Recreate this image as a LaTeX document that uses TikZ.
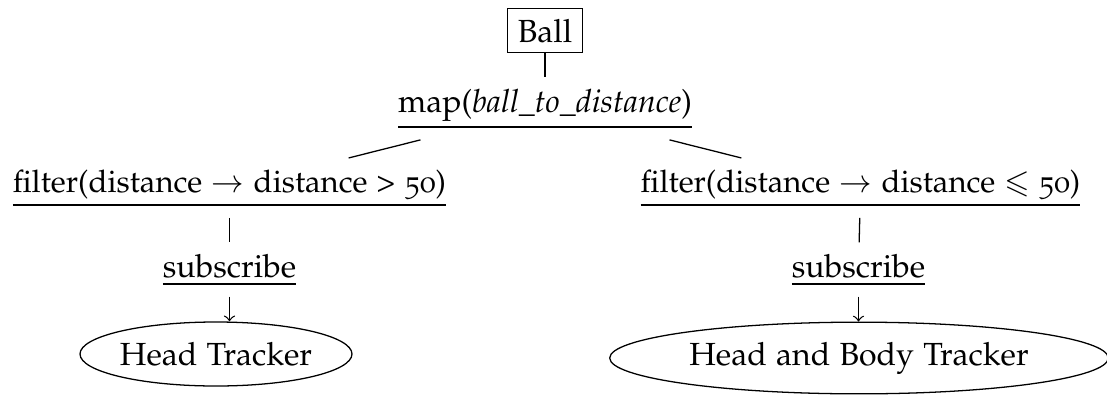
\documentclass[tikz,border=0pt]{standalone}
\usepackage[T1]{fontenc}
\usepackage[sc,osf]{mathpazo}
\usepackage{amssymb}
\usepackage{graphicx}
\usetikzlibrary{shapes.geometric}
\newcommand\myuline[1]{\setbox0\hbox{#1}\vtop{\box0\kern1.7pt\hrule height 0.6pt}}
\begin{document}
\begin{tikzpicture}[x=0.3125pt,y=-0.3125pt,
  lbl/.style={inner sep=3.4pt, anchor=base},
  boxed/.style={draw, inner sep=3.33pt},
  oval/.style={draw, ellipse, inner sep=0pt},
  conn/.style={line width=0.4pt}]
\useasboundingbox (0,0) rectangle (1107,396);
\clip (0,0) rectangle (1107,396);
\node[boxed] (ball) at (545,30.5) {Ball};
\node[lbl] (map) at (545,112) {\myuline{map(\textit{ball\_to\_distance})}};
\node[lbl] (filL) at (229.5,192) {\myuline{\scalebox{0.973}{filter(distance $\rightarrow$ distance > 50)}}};
\node[lbl] (filR) at (860.5,192) {\myuline{\scalebox{0.973}{filter(distance $\rightarrow$ distance $\leqslant$ 50)}}};
\node[lbl] (subL) at (229.5,277) {\myuline{subscribe}};
\node[lbl] (subR) at (858.5,277) {\myuline{subscribe}};
\node[oval, minimum width=85pt, minimum height=20pt] (ellL) at (216,354) {Head Tracker};
\node[oval, minimum width=155.8pt, minimum height=22.4pt] (ellR) at (859,358) {Head and Body Tracker};
\draw[conn] (ball) -- (map);
\draw[conn] (map) -- (filL);
\draw[conn] (map) -- (filR);
\draw[conn] (filL) -- (subL);
\draw[conn] (filR) -- (subR);
\draw[conn,->] (subL.south) -- (subL.south |- ellL.north);
\draw[conn,->] (subR.south) -- (subR.south |- ellR.north);
\end{tikzpicture}
\end{document}
